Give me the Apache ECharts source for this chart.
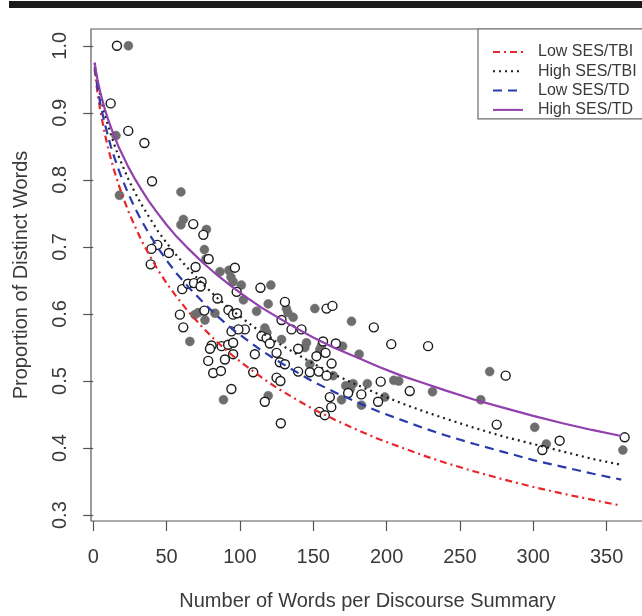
<!DOCTYPE html>
<html>
<head>
<meta charset="utf-8">
<script src="https://cdn.jsdelivr.net/npm/echarts@6/dist/echarts.min.js"></script>
<style>
  html, body { margin: 0; padding: 0; background: #fff; overflow: hidden; }
  #chart { width: 660px; height: 616px; }
</style>
</head>
<body>
<div id="chart"></div>
<script>
// Axis ticks
const xTicks = [0, 50, 100, 150, 200, 250, 300, 350];
const yTicks = [0.3, 0.4, 0.5, 0.6, 0.7, 0.8, 0.9, 1.0];

// Fitted curves: proportion of distinct words by summary length
const curveX  = [1, 2, 3, 4, 5, 6, 8, 10, 12, 14, 17, 20, 24, 28, 33, 38, 44, 50, 57, 65,
                 75, 85, 95, 105, 115, 125, 135, 150, 165, 180, 195, 210, 225, 240, 260, 280, 300, 320, 340, 360];
const lowTbi  = [0.966, 0.946, 0.929, 0.915, 0.901, 0.890, 0.868, 0.849, 0.832, 0.816, 0.795, 0.776, 0.753, 0.733, 0.709, 0.689, 0.666, 0.646, 0.625, 0.603,
                 0.579, 0.557, 0.538, 0.521, 0.505, 0.490, 0.477, 0.458, 0.442, 0.427, 0.413, 0.401, 0.389, 0.378, 0.365, 0.353, 0.342, 0.332, 0.323, 0.314];
const highTbi = [0.974, 0.959, 0.946, 0.934, 0.924, 0.914, 0.897, 0.882, 0.868, 0.855, 0.837, 0.821, 0.801, 0.783, 0.763, 0.745, 0.724, 0.706, 0.687, 0.667,
                 0.644, 0.623, 0.605, 0.588, 0.572, 0.558, 0.545, 0.526, 0.509, 0.494, 0.480, 0.467, 0.455, 0.444, 0.430, 0.417, 0.406, 0.395, 0.384, 0.375];
const lowTd   = [0.969, 0.951, 0.937, 0.924, 0.912, 0.902, 0.883, 0.866, 0.850, 0.836, 0.817, 0.800, 0.779, 0.760, 0.739, 0.720, 0.699, 0.680, 0.660, 0.640,
                 0.617, 0.596, 0.577, 0.561, 0.545, 0.531, 0.518, 0.499, 0.483, 0.468, 0.454, 0.442, 0.430, 0.419, 0.406, 0.394, 0.382, 0.372, 0.362, 0.353];
const highTd  = [0.975, 0.961, 0.949, 0.939, 0.929, 0.921, 0.905, 0.891, 0.879, 0.867, 0.851, 0.837, 0.819, 0.803, 0.785, 0.768, 0.750, 0.733, 0.715, 0.697,
                 0.676, 0.657, 0.640, 0.624, 0.609, 0.596, 0.583, 0.565, 0.549, 0.535, 0.521, 0.508, 0.497, 0.486, 0.472, 0.460, 0.448, 0.437, 0.427, 0.418];

// Individual summaries: [words, proportion distinct]
const filledPoints = [
  [24.0, 1.0], [15.5, 0.866], [59.8, 0.782], [17.9, 0.777], [61.5, 0.741], [59.8, 0.733],
  [77.2, 0.726], [75.8, 0.696], [76.8, 0.682], [86.4, 0.663], [92.5, 0.665], [93.9, 0.655],
  [101.0, 0.643], [121.1, 0.643], [102.4, 0.621], [119.3, 0.615], [83.0, 0.601], [76.2, 0.591],
  [69.3, 0.599], [71.6, 0.602], [65.9, 0.559], [88.8, 0.472], [119.3, 0.478], [131.7, 0.608],
  [132.7, 0.602], [136.3, 0.595], [117.0, 0.579], [118.4, 0.572], [128.4, 0.562], [145.4, 0.557],
  [144.3, 0.550], [154.5, 0.547], [155.7, 0.553], [151.1, 0.608], [170.0, 0.552], [176.1, 0.589],
  [181.3, 0.540], [147.7, 0.525], [163.6, 0.508], [172.2, 0.493], [175.3, 0.488], [177.2, 0.496],
  [169.3, 0.472], [182.9, 0.464], [186.9, 0.496], [198.8, 0.476], [204.9, 0.501], [208.3, 0.500],
  [231.3, 0.484], [264.2, 0.472], [270.3, 0.514], [301.0, 0.431], [308.9, 0.406], [361.1, 0.397],
  [95.4, 0.648], [111.4, 0.604]
];
const openPoints = [
  [16.2, 1.0], [11.9, 0.914], [23.9, 0.873], [34.9, 0.855], [40.1, 0.798], [68.2, 0.734],
  [75.1, 0.718], [43.7, 0.703], [39.7, 0.697], [51.6, 0.691], [78.7, 0.682], [39.2, 0.674],
  [69.8, 0.670], [96.6, 0.669], [60.7, 0.637], [64.6, 0.645], [68.7, 0.646], [73.9, 0.648],
  [73.2, 0.641], [114.0, 0.639], [84.7, 0.623], [92.2, 0.606], [95.4, 0.599], [98.0, 0.601],
  [59.1, 0.599], [75.8, 0.605], [61.4, 0.580], [94.3, 0.574], [103.4, 0.577], [80.7, 0.553],
  [87.5, 0.552], [92.0, 0.554], [95.4, 0.557], [78.4, 0.530], [89.8, 0.532], [95.4, 0.540],
  [81.8, 0.512], [87.1, 0.515], [109.1, 0.513], [94.2, 0.488], [117.0, 0.469], [125.0, 0.505],
  [127.6, 0.500], [127.9, 0.437], [130.7, 0.618], [128.4, 0.591], [135.2, 0.577], [142.0, 0.577],
  [159.1, 0.608], [163.1, 0.612], [191.3, 0.580], [203.2, 0.555], [228.3, 0.552], [114.8, 0.567],
  [118.2, 0.564], [125.0, 0.542], [127.2, 0.528], [130.7, 0.525], [139.7, 0.548], [152.2, 0.537],
  [158.4, 0.542], [156.7, 0.559], [165.4, 0.556], [162.5, 0.526], [139.7, 0.514], [147.7, 0.513],
  [153.8, 0.514], [159.1, 0.508], [161.3, 0.476], [162.3, 0.461], [154.2, 0.454], [157.9, 0.449],
  [173.8, 0.482], [182.8, 0.480], [196.0, 0.499], [194.2, 0.469], [215.8, 0.485], [281.2, 0.508],
  [275.1, 0.435], [306.2, 0.397], [318.0, 0.411], [362.3, 0.416], [110.2, 0.540], [97.8, 0.633],
  [120.4, 0.556], [79.6, 0.548], [99.0, 0.577]
];

const curves = [
  { name: 'Low SES/TBI',  values: lowTbi,  color: '#e8272c', dash: [7, 4, 2, 4] },
  { name: 'High SES/TBI', values: highTbi, color: '#1f1f1f', dash: [2, 4] },
  { name: 'Low SES/TD',   values: lowTd,   color: '#2b3aaa', dash: [9, 6] },
  { name: 'High SES/TD',  values: highTd,  color: '#9140ad', dash: 'solid' }
];

const FONT = "'Liberation Sans', Arial, Helvetica, sans-serif";
const TEXT = '#3a3a3a';

const chart = echarts.init(document.getElementById('chart'), null, { renderer: 'canvas' });

const lineSeries = curves.map(c => ({
  name: c.name,
  type: 'line',
  data: curveX.map((x, i) => [x, c.values[i]]),
  symbol: 'none',
  smooth: false,
  z: 5,
  lineStyle: { color: c.color, width: 2.2, type: c.dash },
  itemStyle: { color: c.color }
}));

chart.setOption({
  animation: false,
  backgroundColor: '#fff',
  textStyle: { fontFamily: FONT },
  graphic: [
    { type: 'rect', shape: { x: 9, y: 1, width: 660, height: 7 }, style: { fill: '#1b1b1b' } }
  ],
  grid: {
    left: 91, right: 16, top: 29, bottom: 89,
    show: true, borderColor: '#5a5a5a', borderWidth: 1.2, backgroundColor: 'transparent'
  },
  legend: {
    orient: 'vertical',
    left: 478, top: 29,
    padding: [15, 60, 1, 14],
    itemGap: 3.3,
    itemWidth: 30, itemHeight: 14,
    borderColor: '#6a6a6a', borderWidth: 1.2,
    backgroundColor: '#fff',
    itemStyle: { opacity: 0 },
    textStyle: { fontFamily: FONT, fontSize: 16, color: TEXT, padding: [0, 0, 0, 10] },
    data: curves.map(c => c.name)
  },
  xAxis: {
    type: 'value',
    min: -1.5, max: 375.5,
    name: 'Number of Words per Discourse Summary',
    nameLocation: 'middle', nameGap: 70,
    nameTextStyle: { fontFamily: FONT, fontSize: 20, color: TEXT },
    axisLine: { show: false },
    axisTick: { show: true, length: 10, customValues: xTicks, lineStyle: { color: '#555', width: 1.2 } },
    axisLabel: { customValues: xTicks, margin: 26, fontFamily: FONT, fontSize: 20, color: TEXT },
    splitLine: { show: false }
  },
  yAxis: {
    type: 'value',
    min: 0.2912, max: 1.025,
    name: 'Proportion of Distinct Words',
    nameLocation: 'middle', nameGap: 60,
    nameTextStyle: { fontFamily: FONT, fontSize: 20, color: TEXT },
    axisLine: { show: false },
    axisTick: { show: true, length: 10, customValues: yTicks, lineStyle: { color: '#555', width: 1.2 } },
    axisLabel: {
      customValues: yTicks, rotate: 90, margin: 21,
      fontFamily: FONT, fontSize: 20, color: TEXT,
      formatter: v => v.toFixed(1)
    },
    splitLine: { show: false }
  },
  series: [
    {
      type: 'scatter', data: filledPoints, symbol: 'circle', symbolSize: 9, z: 2,
      itemStyle: { color: '#6e6e6e', borderColor: '#6e6e6e', borderWidth: 0.5, opacity: 1 }
    },
    {
      type: 'scatter', data: openPoints, symbol: 'circle', symbolSize: 9, z: 3,
      itemStyle: { color: '#ffffff', borderColor: '#1a1a1a', borderWidth: 1.4, opacity: 1 }
    }
  ].concat(lineSeries)
});
</script>
</body>
</html>
